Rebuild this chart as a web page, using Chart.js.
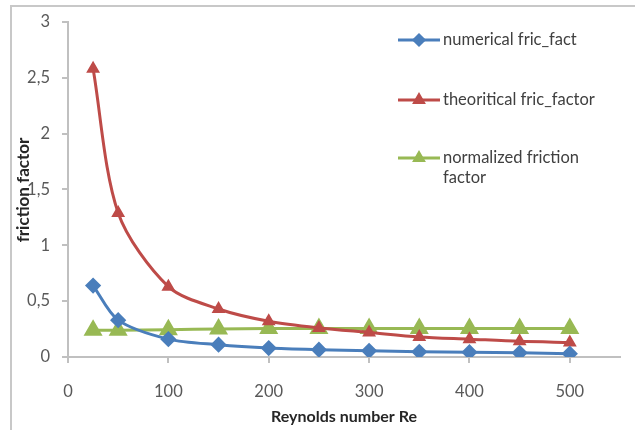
<!DOCTYPE html>
<html>
<head>
<meta charset="utf-8">
<script src="https://cdn.jsdelivr.net/npm/chart.js@4/dist/chart.umd.min.js"></script>
<style>
  html, body { margin: 0; padding: 0; background: #fff; }
  #wrap { position: relative; width: 635px; height: 430px; }
  #frame { position: absolute; left: 10px; top: 5px; right: 0; bottom: 0; border-left: 2px solid #c8c8c8; border-top: 2px solid #c8c8c8; pointer-events: none; }
</style>
</head>
<body>
<div id="wrap">
  <canvas id="chart" width="635" height="430"></canvas>
  <div id="frame"></div>
</div>
<script>
const reynolds = [25, 50, 100, 150, 200, 250, 300, 350, 400, 450, 500];
const numericalFric = [0.64, 0.33, 0.16, 0.11, 0.08, 0.065, 0.055, 0.047, 0.043, 0.037, 0.03];
const theoreticalFric = [2.58, 1.29, 0.63, 0.43, 0.32, 0.26, 0.22, 0.18, 0.16, 0.14, 0.13];
const normalizedFric = [0.24, 0.24, 0.245, 0.25, 0.255, 0.255, 0.255, 0.255, 0.255, 0.255, 0.255];
const seriesNames = ['numerical fric_fact', 'theoritical fric_factor', 'normalized friction|factor'];

const FONT = "Lato, 'Open Sans', sans-serif";
const BLUE = '#4a7ebb', RED = '#be4b48', GREEN = '#98b954';
const AXIS = '#c0c0c0';

function pts(vals) {
  return vals.map((v, i) => ({ x: reynolds[i], y: v }));
}

// draws the overlay legend and the y-axis title like the Excel original
const extras = {
  id: 'extras',
  afterDraw(chart) {
    const ctx = chart.ctx;
    ctx.save();
    const rows = [40, 100, 158];
    chart.data.datasets.forEach((ds, i) => {
      const y = rows[i];
      ctx.strokeStyle = ds.borderColor;
      ctx.lineWidth = 3;
      ctx.beginPath();
      ctx.moveTo(398, y);
      ctx.lineTo(440, y);
      ctx.stroke();
      Chart.helpers.drawPoint(ctx, {
        pointStyle: ds.pointStyle, radius: 5, borderWidth: 1
      }, 419, y);
      ctx.fillStyle = ds.borderColor;
      ctx.fill();
      ctx.fillStyle = '#404040';
      ctx.font = '16.5px ' + FONT;
      ctx.textBaseline = 'middle';
      ctx.textAlign = 'left';
      seriesNames[i].split('|').forEach((t, k) => ctx.fillText(t, 443, y + k * 20));
    });
    // y title
    ctx.translate(24, 190);
    ctx.rotate(-Math.PI / 2);
    ctx.font = 'bold 17px ' + FONT;
    ctx.fillStyle = '#262626';
    ctx.textAlign = 'center';
    ctx.textBaseline = 'middle';
    ctx.fillText('friction factor', 0, 0);
    ctx.restore();
  }
};

new Chart(document.getElementById('chart'), {
  type: 'line',
  data: {
    datasets: [
      { label: seriesNames[0], data: pts(numericalFric), borderColor: BLUE, backgroundColor: BLUE,
        pointStyle: 'rectRot', pointRadius: 6, borderWidth: 3 },
      { label: seriesNames[1], data: pts(theoreticalFric), borderColor: RED, backgroundColor: RED,
        pointStyle: 'triangle', pointRadius: 5, borderWidth: 3 },
      { label: seriesNames[2], data: pts(normalizedFric), borderColor: GREEN, backgroundColor: GREEN,
        pointStyle: 'triangle', pointRadius: 8, borderWidth: 3 }
    ]
  },
  options: {
    responsive: false,
    animation: false,
    tension: 0.3,
    layout: { padding: { top: 19, right: 15, left: 0, bottom: 0 } },
    plugins: { legend: { display: false }, tooltip: { enabled: false } },
    scales: {
      x: {
        type: 'linear', min: 0, max: 550,
        border: { color: AXIS, width: 2 },
        grid: { drawOnChartArea: false, color: AXIS, tickLength: 6, lineWidth: 2 },
        afterBuildTicks: s => { s.ticks = s.ticks.filter(t => t.value % 100 === 0); },
        ticks: { stepSize: 100, maxRotation: 0, color: '#595959', padding: 19, font: { family: FONT, size: 16.5 } },
        title: { display: true, text: 'Reynolds number Re', color: '#262626', padding: { top: 0 },
                 font: { family: FONT, size: 16, weight: 'bold' } },
        afterFit: s => { s.height = 73; }
      },
      y: {
        min: 0, max: 3,
        border: { color: AXIS, width: 2 },
        grid: { drawOnChartArea: false, color: AXIS, tickLength: 6, lineWidth: 2 },
        ticks: { stepSize: 0.5, color: '#595959', padding: 12, font: { family: FONT, size: 16.5 },
                 callback: v => String(v).replace('.', ',') },
        afterFit: s => { s.width = 68; }
      }
    }
  },
  plugins: [extras]
});
</script>
</body>
</html>
